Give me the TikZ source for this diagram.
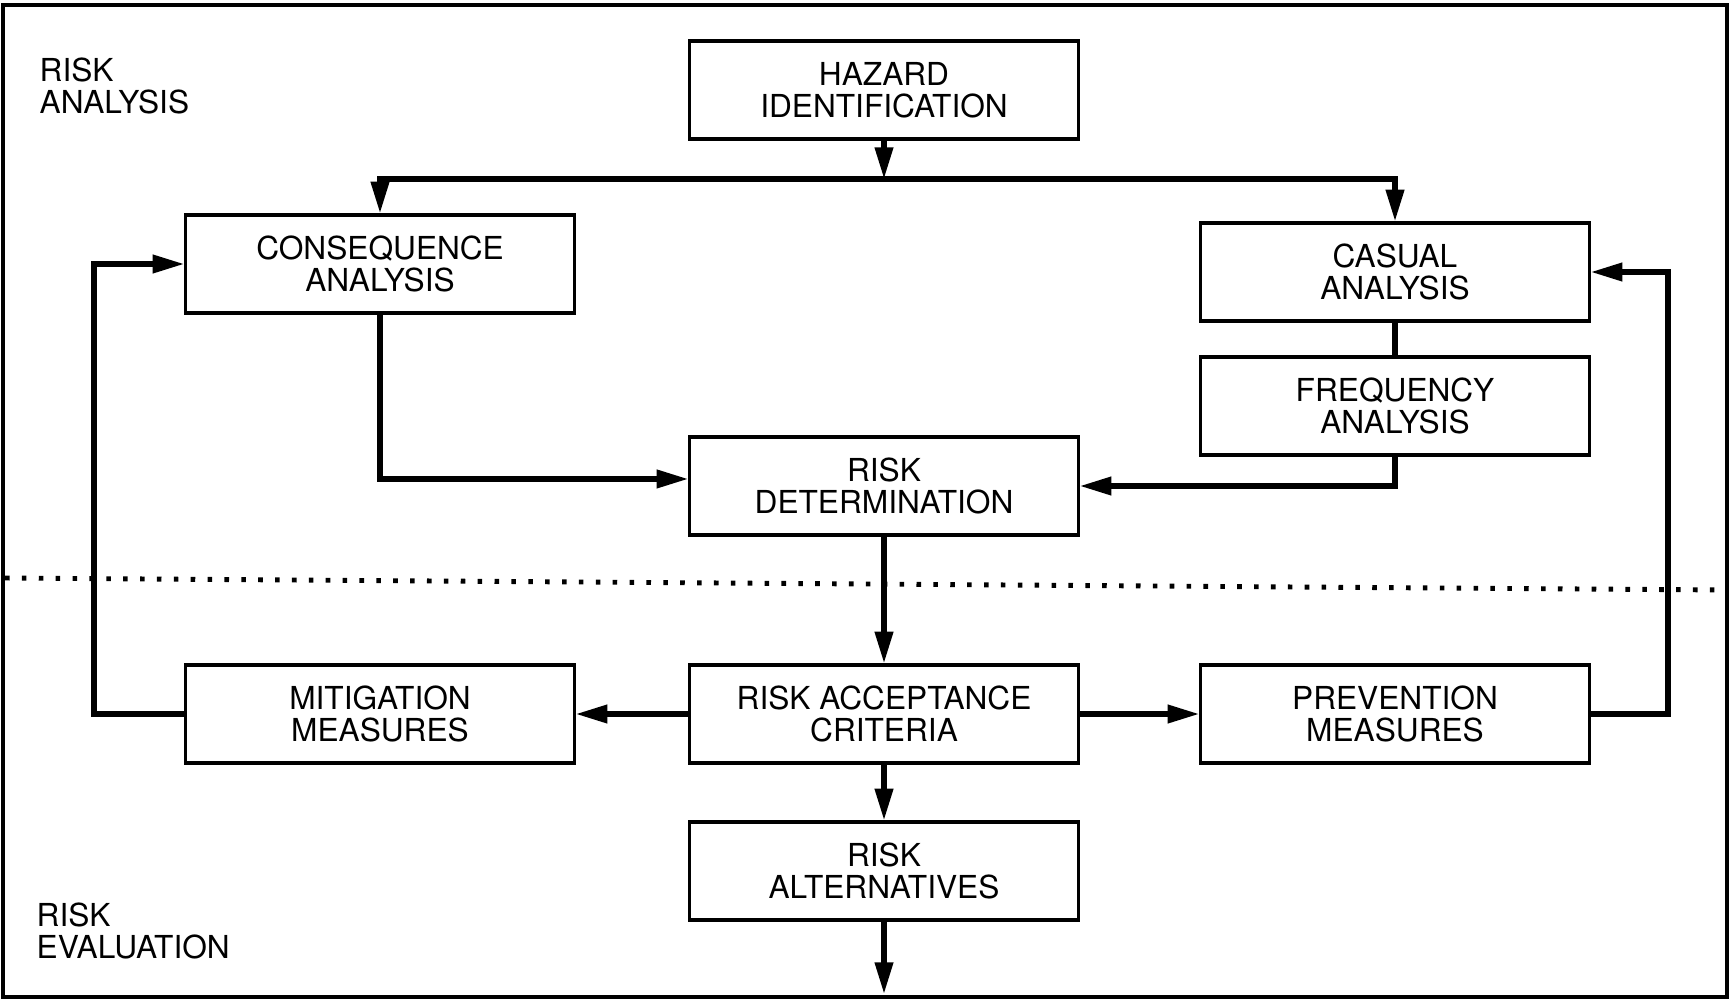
\documentclass[tikz,border=0pt]{standalone}
\usepackage{fontspec}
\setmainfont{TeX Gyre Heros}
\usetikzlibrary{arrows.meta,positioning}

\begin{document}
\begin{tikzpicture}[x=0.01cm, y=-0.01cm,
    box/.style={draw, line width=0.9pt, minimum width=3.88cm, minimum height=0.98cm,
      align=center, inner sep=0pt, font=\fontsize{9}{9.2}\selectfont},
    flow/.style={line width=1.5pt, -{Triangle[length=9pt,width=5pt]}},
    link/.style={line width=1.5pt},
    side/.style={align=left, anchor=north west, inner sep=0pt, font=\fontsize{9}{9.2}\selectfont},
    dotline/.style={line width=1.4pt, dash pattern=on 1.3pt off 3.5pt}]
    \useasboundingbox (0,0) rectangle (1730,1003);
    \draw[line width=1.3pt] (3,5) rectangle (1727,997);
    \node[side] (ana) at (39,57) {RISK\\ANALYSIS};
    \node[side] (eva) at (36,902) {RISK\\EVALUATION};
    \draw[dotline] (5,578) -- (1727,590);

    \node[box] (haz) at (884,90) {HAZARD\\IDENTIFICATION};
    \node[box] (cons) at (380,264) {CONSEQUENCE\\ANALYSIS};
    \node[box] (cas) at (1395,272) {CASUAL\\ANALYSIS};
    \node[box] (freq) at (1395,406) {FREQUENCY\\ANALYSIS};
    \node[box] (det) at (884,486) {RISK\\DETERMINATION};
    \node[box] (mit) at (380,714) {MITIGATION\\MEASURES};
    \node[box] (acc) at (884,714) {RISK ACCEPTANCE\\CRITERIA};
    \node[box] (prev) at (1395,714) {PREVENTION\\MEASURES};
    \node[box] (alt) at (884,871) {RISK\\ALTERNATIVES};

    \coordinate (split) at (884,179);
    \coordinate (lret) at (94,714);
    \coordinate (rret) at (1668,714);
    \coordinate (out) at (884,994);

    \draw[flow] (haz.south) -- (split);
    \draw[flow] (split) -| (cons.north);
    \draw[flow] (split) -| (cas.north);
    \draw[flow] (cons.south) |- ([yshift=2pt]det.west);
    \draw[link] (cas) -- (freq);
    \draw[flow] (freq.south) |- (det.east);
    \draw[flow] (det) -- (acc);
    \draw[flow] (acc) -- (mit);
    \draw[flow] (acc) -- (prev);
    \draw[flow] (acc) -- (alt);
    \draw[flow] (alt) -- (out);
    \draw[flow] (mit.west) -- (lret) |- (cons.west);
    \draw[flow] (prev.east) -- (rret) |- (cas.east);
\end{tikzpicture}
\end{document}
